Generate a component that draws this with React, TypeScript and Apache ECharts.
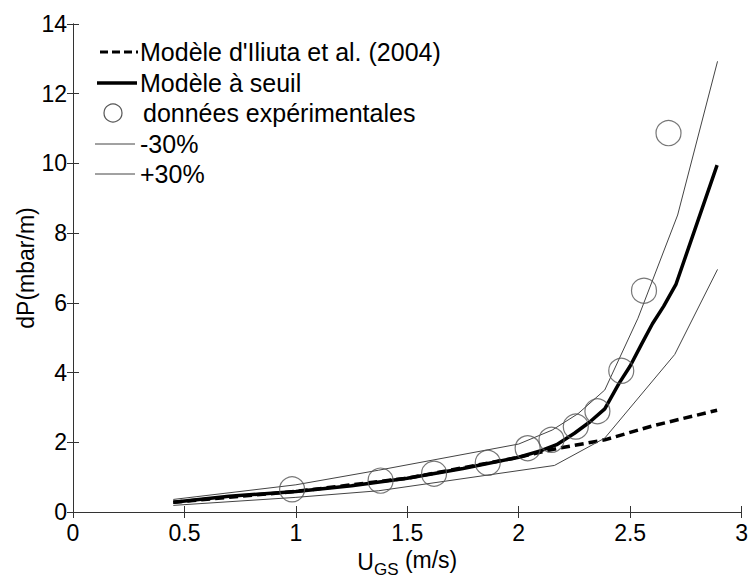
import React, { useEffect, useRef } from "react";
import * as echarts from "echarts";

// Modèle à seuil
const uModel = [0.45, 0.7, 1.0, 1.25, 1.5, 1.75, 2.0, 2.1, 2.17, 2.25, 2.32, 2.386, 2.45, 2.5, 2.55, 2.6, 2.65, 2.706, 2.89];
const dpModel = [0.28, 0.45, 0.59, 0.75, 0.97, 1.25, 1.57, 1.76, 1.93, 2.26, 2.59, 2.96, 3.69, 4.19, 4.8, 5.4, 5.9, 6.54, 9.95];

// Modèle d'Iliuta et al. (2004)
const uIliuta = [0.45, 1.0, 1.5, 2.0, 2.1, 2.17, 2.386, 2.6, 2.89];
const dpIliuta = [0.28, 0.59, 0.97, 1.57, 1.72, 1.82, 2.07, 2.47, 2.92];

// données expérimentales
const uExp = [0.983, 1.38, 1.62, 1.861, 2.04, 2.147, 2.256, 2.353, 2.46, 2.562, 2.672];
const dpExp = [0.65, 0.9, 1.1, 1.41, 1.83, 2.07, 2.45, 2.89, 4.05, 6.35, 10.87];

// -30%
const uMinus = [0.45, 1.0, 1.372, 2.16, 2.386, 2.7, 2.892];
const dpMinus = [0.19, 0.42, 0.61, 1.335, 2.12, 4.52, 6.96];

// +30%
const uPlus = [0.45, 1.0, 1.372, 2.0, 2.15, 2.266, 2.386, 2.535, 2.713, 2.892];
const dpPlus = [0.36, 0.78, 1.2, 1.95, 2.35, 2.82, 3.5, 5.56, 8.52, 12.93];

const legendLabels = [
  "Modèle d'Iliuta et al. (2004)",
  "Modèle à seuil",
  "données expérimentales",
  "-30%",
  "+30%",
];

const FONT = "'Liberation Sans', Arial, Helvetica, sans-serif";

const zip = (xs: number[], ys: number[]) => xs.map((x, i) => [x, ys[i]]);

export default function App() {
  const ref = useRef<HTMLDivElement>(null);
  useEffect(() => {
    if (!ref.current) return;
    const chart = echarts.init(ref.current, undefined, { renderer: "svg" });
    const axisLine = { show: true, lineStyle: { color: "#333", width: 1 } };
    const tick = { show: true, inside: true, length: 6, lineStyle: { color: "#333" } };
    const label = { color: "#000", fontSize: 23, fontFamily: FONT };
    const legendFont = `25px ${FONT}`;
    const rowY = [52, 83, 113, 144, 174];
    chart.setOption({
      animation: false,
      backgroundColor: "#fff",
      grid: { left: 73, right: 7, top: 24, bottom: 63 },
      xAxis: [
        {
          type: "value",
          min: 0,
          max: 3,
          interval: 0.5,
          position: "bottom",
          axisLine,
          axisTick: tick,
          axisLabel: { ...label, margin: 9 },
          splitLine: { show: false },
          name: "{u|U}{s|GS}{n| (m/s)}",
          nameLocation: "middle",
          nameGap: 33,
          nameMoveOverlap: false,
          nameTextStyle: {
            fontFamily: FONT,
            color: "#000",
            fontSize: 23,
            rich: {
              u: { fontSize: 23, fontFamily: FONT, color: "#000" },
              s: { fontSize: 17, fontFamily: FONT, color: "#000", padding: [16, 0, 0, 0] },
              n: { fontSize: 23, fontFamily: FONT, color: "#000", padding: [0, 0, 4, 0] },
            },
          },
        },
        {
          type: "value",
          min: 0,
          max: 3,
          interval: 0.5,
          position: "top",
          axisLine,
          axisTick: tick,
          axisLabel: { show: false },
          splitLine: { show: false },
        },
      ],
      yAxis: [
        {
          type: "value",
          min: 0,
          max: 14,
          interval: 2,
          position: "left",
          axisLine,
          axisTick: tick,
          axisLabel: { ...label, margin: 6 },
          splitLine: { show: false },
          name: "dP(mbar/m)",
          nameLocation: "middle",
          nameGap: 36,
          nameMoveOverlap: false,
          nameRotate: 90,
          nameTextStyle: { fontSize: 23, fontFamily: FONT, color: "#000" },
        },
        {
          type: "value",
          min: 0,
          max: 14,
          interval: 2,
          position: "right",
          axisLine,
          axisTick: tick,
          axisLabel: { show: false },
          splitLine: { show: false },
        },
      ],
      series: [
        {
          name: legendLabels[0],
          type: "line",
          data: zip(uIliuta, dpIliuta),
          symbol: "none",
          lineStyle: { color: "#000", width: 3.5, type: [9, 5] },
          z: 2,
        },
        {
          name: legendLabels[3],
          type: "line",
          data: zip(uMinus, dpMinus),
          symbol: "none",
          lineStyle: { color: "#444", width: 1 },
          z: 2,
        },
        {
          name: legendLabels[4],
          type: "line",
          data: zip(uPlus, dpPlus),
          symbol: "none",
          lineStyle: { color: "#444", width: 1 },
          z: 2,
        },
        {
          name: legendLabels[1],
          type: "line",
          data: zip(uModel, dpModel),
          symbol: "none",
          lineStyle: { color: "#000", width: 3.5 },
          z: 3,
        },
        {
          name: legendLabels[2],
          type: "scatter",
          data: zip(uExp, dpExp),
          symbol: "circle",
          symbolSize: 25,
          itemStyle: { color: "rgba(0,0,0,0)", borderColor: "#555", borderWidth: 1.2 },
          z: 4,
        },
      ],
      graphic: [
        { type: "line", shape: { x1: 100, y1: rowY[0], x2: 138, y2: rowY[0] }, style: { stroke: "#000", lineWidth: 3, lineDash: [8, 4] } },
        { type: "text", x: 140, y: rowY[0], style: { text: legendLabels[0], font: legendFont, fill: "#000", align: "left", verticalAlign: "middle" } },
        { type: "line", shape: { x1: 97, y1: rowY[1], x2: 137, y2: rowY[1] }, style: { stroke: "#000", lineWidth: 3.5 } },
        { type: "text", x: 140, y: rowY[1], style: { text: legendLabels[1], font: legendFont, fill: "#000", align: "left", verticalAlign: "middle" } },
        { type: "circle", shape: { cx: 113, cy: rowY[2], r: 9 }, style: { fill: "none", stroke: "#555", lineWidth: 1.2 } },
        { type: "text", x: 143, y: rowY[2], style: { text: legendLabels[2], font: legendFont, fill: "#000", align: "left", verticalAlign: "middle" } },
        { type: "line", shape: { x1: 95, y1: rowY[3], x2: 135, y2: rowY[3] }, style: { stroke: "#444", lineWidth: 1 } },
        { type: "text", x: 140, y: rowY[3], style: { text: legendLabels[3], font: legendFont, fill: "#000", align: "left", verticalAlign: "middle" } },
        { type: "line", shape: { x1: 95, y1: rowY[4], x2: 135, y2: rowY[4] }, style: { stroke: "#444", lineWidth: 1 } },
        { type: "text", x: 140, y: rowY[4], style: { text: legendLabels[4], font: legendFont, fill: "#000", align: "left", verticalAlign: "middle" } },
      ],
    });
    return () => chart.dispose();
  }, []);
  return (
    <div
      ref={ref}
      style={{ position: "fixed", left: 0, top: 0, width: 751, height: 583, background: "#fff" }}
    />
  );
}
